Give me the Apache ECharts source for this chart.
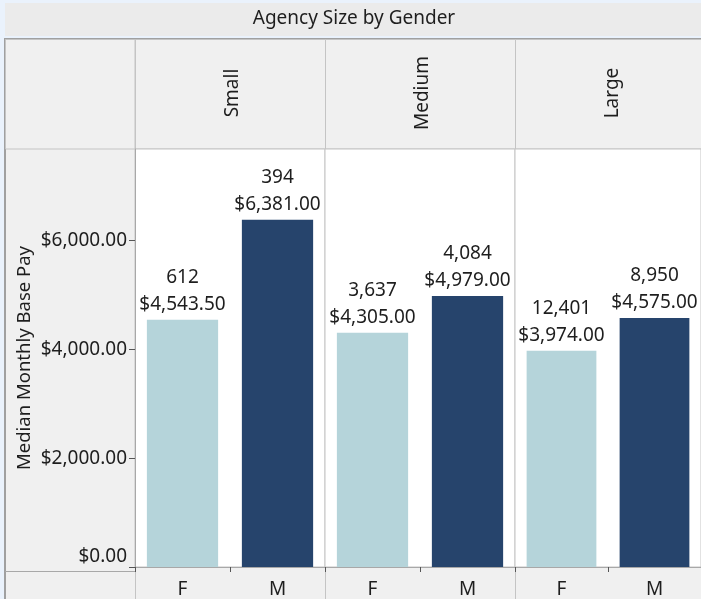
<!DOCTYPE html>
<html>
<head>
<meta charset="utf-8">
<script src="https://cdn.jsdelivr.net/npm/echarts@6/dist/echarts.min.js"></script>
<style>
  html, body { margin: 0; padding: 0; background: #eaf2fc; }
  #chart { width: 701px; height: 599px; }
</style>
</head>
<body>
<div id="chart"></div>
<script>
// data
const sizes = ["Small", "Medium", "Large"];
const genders = ["F", "M"];
const medianF = [4543.5, 4305, 3974];
const medianM = [6381, 4979, 4575];
const countF = [612, 3637, 12401];
const countM = [394, 4084, 8950];
const yMax = 7680;
const yStep = 2000;

const colorF = "#b5d4da";
const colorM = "#26446c";
const font = "'Noto Sans', 'Open Sans', sans-serif";
const textColor = "#1e1e1e";

const money = v =>
  "$" + Number(v).toLocaleString("en-US", { minimumFractionDigits: 2, maximumFractionDigits: 2 });

const panelLeft = 135;
const panelW = 190;
const plotTop = 149;
const plotH = 422;

const chart = echarts.init(document.getElementById("chart"));

const grids = [], xAxes = [], yAxes = [], series = [];
sizes.forEach((s, i) => {
  grids.push({
    left: panelLeft + panelW * i,
    top: plotTop,
    width: panelW,
    height: plotH,
    show: true,
    backgroundColor: "#fff",
    borderColor: "#c4c4c4",
    borderWidth: 1,
  });
  xAxes.push({
    type: "category",
    gridIndex: i,
    data: genders,
    axisLine: { lineStyle: { color: "#a8a8a8" } },
    axisTick: { show: true, length: 5, lineStyle: { color: "#555" } },
    axisLabel: { color: textColor, fontSize: 19, fontFamily: font, margin: 13 },
  });
  yAxes.push({
    type: "value",
    gridIndex: i,
    min: 0,
    max: yMax,
    interval: yStep,
    splitLine: { show: false },
    axisLine: { show: i === 0, lineStyle: { color: "#a8a8a8" } },
    axisTick: { show: i === 0, length: 6, lineStyle: { color: "#555" } },
    axisLabel: {
      show: i === 0,
      showMaxLabel: false,
      color: textColor,
      fontSize: 19,
      fontFamily: font,
      margin: 8,
      formatter: v => (v === 0 ? "{z|" + money(v) + "}" : money(v)),
      rich: { z: { fontSize: 19, fontFamily: font, color: textColor, padding: [0, 0, 20, 0] } },
    },
    name: i === 0 ? "Median Monthly Base Pay" : "",
    nameLocation: "middle",
    nameRotate: 90,
    nameGap: 101,
    nameTextStyle: { color: textColor, fontSize: 18.5, fontFamily: font },
  });
  series.push({
    type: "bar",
    xAxisIndex: i,
    yAxisIndex: i,
    barCategoryGap: "25%",
    data: [
      { value: medianF[i], count: countF[i], itemStyle: { color: colorF } },
      { value: medianM[i], count: countM[i], itemStyle: { color: colorM } },
    ],
    label: {
      show: true,
      position: "top",
      distance: 2,
      color: textColor,
      fontSize: 19,
      lineHeight: 27,
      fontFamily: font,
      formatter: p => p.data.count.toLocaleString("en-US") + "\n" + money(p.value),
    },
    animation: false,
  });
});

const graphic = [
  // title band
  { type: "rect", shape: { x: 5, y: 3, width: 700, height: 33 }, style: { fill: "#ebebeb" }, z: -10 },
  {
    type: "text", x: 354, y: 19,
    style: { text: "Agency Size by Gender", fill: textColor, font: "19px " + font, align: "center", verticalAlign: "middle" },
  },
  // frame for axes and headers
  { type: "rect", shape: { x: 5, y: 39, width: 700, height: 570 }, style: { fill: "#f0f0f0", stroke: "#a0a0a0", lineWidth: 2 }, z: -10 },
  { type: "rect", shape: { x: 5.5, y: 39.5, width: 129.5, height: 109.5 }, style: { fill: "#f0f0f0", stroke: "#c4c4c4" }, z: -9 },
  { type: "line", shape: { x1: 5, y1: 571.5, x2: 135, y2: 571.5 }, style: { stroke: "#a8a8a8" } },
];
sizes.forEach((s, i) => {
  const x = panelLeft + panelW * i;
  graphic.push({
    type: "rect",
    shape: { x: x + 0.5, y: 39.5, width: panelW, height: 109.5 },
    style: { fill: "#f0f0f0", stroke: "#c4c4c4" },
    z: -9,
  });
  graphic.push({
    type: "text", x: x + panelW / 2 + 3, y: 93, rotation: Math.PI / 2,
    style: { text: s, fill: textColor, font: "19px " + font, align: "center", verticalAlign: "middle" },
  });
  graphic.push({
    type: "line",
    shape: { x1: x + 0.5, y1: 571, x2: x + 0.5, y2: 599 },
    style: { stroke: "#c4c4c4" },
  });
});

chart.setOption({
  animation: false,
  backgroundColor: "transparent",
  grid: grids,
  xAxis: xAxes,
  yAxis: yAxes,
  series: series,
  graphic: graphic,
});
</script>
</body>
</html>
